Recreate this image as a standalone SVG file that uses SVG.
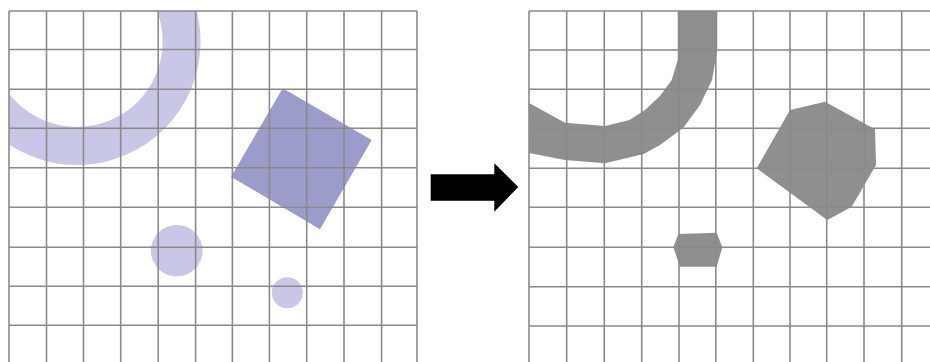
<svg xmlns="http://www.w3.org/2000/svg" width="930" height="362" viewBox="0 0 930 362">
<style>
.grid line{stroke:#8a8a8a;stroke-width:1.6}
.lav{fill:#c8c8e6}
.sq{fill:#9c9cca}
.gr{fill:#8f8f8f}
</style>
<defs>
<clipPath id="cl"><rect x="9" y="11" width="408" height="351"/></clipPath>
<clipPath id="cr"><rect x="529" y="11" width="401" height="351"/></clipPath>
</defs>
<rect width="930" height="362" fill="#ffffff"/>
<g id="left-panel">
<g id="left-shapes" clip-path="url(#cl)">
<path id="ring-left" class="lav" fill-rule="evenodd" d="M77,41.4 m-123.6,0 a123.6,123.6 0 1,0 247.2,0 a123.6,123.6 0 1,0 -247.2,0 Z M77,41.4 m-85.6,0 a85.6,85.6 0 1,0 171.2,0 a85.6,85.6 0 1,0 -171.2,0 Z"/>
<polygon id="square" class="sq" points="282.7,88.3 371.7,140 320,229.3 231,176.7"/>
<circle id="circle-large" class="lav" cx="176.7" cy="250.7" r="25.8"/>
<circle id="circle-small" class="lav" cx="287.3" cy="292.7" r="15.5"/>
</g>
<g class="grid">
<line x1="9" y1="11" x2="9" y2="362"/>
<line x1="46.5" y1="11" x2="46.5" y2="362"/>
<line x1="83.5" y1="11" x2="83.5" y2="362"/>
<line x1="120.7" y1="11" x2="120.7" y2="362"/>
<line x1="158.2" y1="11" x2="158.2" y2="362"/>
<line x1="195.6" y1="11" x2="195.6" y2="362"/>
<line x1="232.4" y1="11" x2="232.4" y2="362"/>
<line x1="269.4" y1="11" x2="269.4" y2="362"/>
<line x1="306.7" y1="11" x2="306.7" y2="362"/>
<line x1="344" y1="11" x2="344" y2="362"/>
<line x1="381.6" y1="11" x2="381.6" y2="362"/>
<line x1="417" y1="11" x2="417" y2="362"/>
<line x1="9" y1="11" x2="417" y2="11"/>
<line x1="9" y1="49.5" x2="417" y2="49.5"/>
<line x1="9" y1="89.3" x2="417" y2="89.3"/>
<line x1="9" y1="128.3" x2="417" y2="128.3"/>
<line x1="9" y1="167.8" x2="417" y2="167.8"/>
<line x1="9" y1="207.3" x2="417" y2="207.3"/>
<line x1="9" y1="247.3" x2="417" y2="247.3"/>
<line x1="9" y1="286.2" x2="417" y2="286.2"/>
<line x1="9" y1="325.3" x2="417" y2="325.3"/>
</g>
</g>
<g id="connectors">
<polygon id="arrow" fill="#000000" points="430.7,174.3 494.3,174.3 494.3,163.3 518.3,187 494.3,211.7 494.3,200.7 430.7,200.7"/>
</g>
<g id="right-panel">
<g id="right-shapes" clip-path="url(#cr)">
<path id="ring-right" class="gr" d="M677.7,0 L717.3,0 L717.3,50 L712,80 L700,105 L683.3,127.7 L660,145 L643.7,154.1 L605,163.3 L565,160 L529,153 L529,103 L565,122.7 L605,126 L629.5,119.9 L645,110 L660,96 L671.7,80 L677.7,60 Z"/>
<polygon id="polygon-large" class="gr" points="825,101.7 875,129.3 876,165 851.7,206.7 827.3,220 756.7,168.3 790,110"/>
<polygon id="polygon-small" class="gr" points="678.3,234 716.7,232.7 722.3,247.3 716.7,266.7 680,266.7 673.3,247.3"/>
</g>
<g class="grid">
<line x1="529" y1="11" x2="529" y2="362"/>
<line x1="566.7" y1="11" x2="566.7" y2="362"/>
<line x1="604.3" y1="11" x2="604.3" y2="362"/>
<line x1="641.7" y1="11" x2="641.7" y2="362"/>
<line x1="679" y1="11" x2="679" y2="362"/>
<line x1="715.8" y1="11" x2="715.8" y2="362"/>
<line x1="753.3" y1="11" x2="753.3" y2="362"/>
<line x1="790" y1="11" x2="790" y2="362"/>
<line x1="826.7" y1="11" x2="826.7" y2="362"/>
<line x1="864" y1="11" x2="864" y2="362"/>
<line x1="901.7" y1="11" x2="901.7" y2="362"/>
<line x1="529" y1="11" x2="930" y2="11"/>
<line x1="529" y1="50" x2="930" y2="50"/>
<line x1="529" y1="89.3" x2="930" y2="89.3"/>
<line x1="529" y1="128.3" x2="930" y2="128.3"/>
<line x1="529" y1="168.3" x2="930" y2="168.3"/>
<line x1="529" y1="207.3" x2="930" y2="207.3"/>
<line x1="529" y1="247.3" x2="930" y2="247.3"/>
<line x1="529" y1="286.7" x2="930" y2="286.7"/>
<line x1="529" y1="326" x2="930" y2="326"/>
</g>
</g>
</svg>
